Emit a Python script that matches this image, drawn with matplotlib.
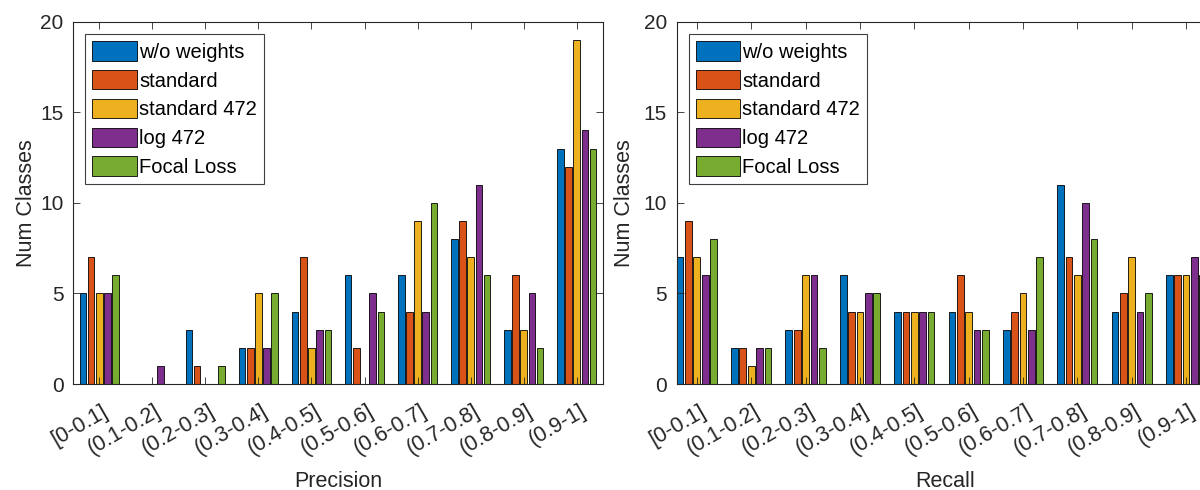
import numpy as np
import matplotlib
matplotlib.use("Agg")
import matplotlib.pyplot as plt
from matplotlib.transforms import ScaledTranslation

plt.rcParams['font.family'] = ['Liberation Sans', 'DejaVu Sans']

bins = ['[0-0.1]', '(0.1-0.2]', '(0.2-0.3]', '(0.3-0.4]', '(0.4-0.5]',
        '(0.5-0.6]', '(0.6-0.7]', '(0.7-0.8]', '(0.8-0.9]', '(0.9-1]']
series = ['w/o weights', 'standard', 'standard 472', 'log 472', 'Focal Loss']

# Number of classes per precision bin, one list per training variant
prec_wo = [5, 0, 3, 2, 4, 6, 6, 8, 3, 13]
prec_std = [7, 0, 1, 2, 7, 2, 4, 9, 6, 12]
prec_std472 = [5, 0, 0, 5, 2, 0, 9, 7, 3, 19]
prec_log472 = [5, 1, 0, 2, 3, 5, 4, 11, 5, 14]
prec_focal = [6, 0, 1, 5, 3, 4, 10, 6, 2, 13]

# Number of classes per recall bin
rec_wo = [7, 2, 3, 6, 4, 4, 3, 11, 4, 6]
rec_std = [9, 2, 3, 4, 4, 6, 4, 7, 5, 6]
rec_std472 = [7, 1, 6, 4, 4, 4, 5, 6, 7, 6]
rec_log472 = [6, 2, 6, 5, 4, 3, 3, 10, 4, 7]
rec_focal = [8, 2, 2, 5, 4, 3, 7, 8, 5, 6]

colors = ['#0072BD', '#D95319', '#EDB120', '#7E2F8E', '#77AC30']
axis_color = '#262626'

W, H = 1200, 490
fig = plt.figure(figsize=(W / 100, H / 100), dpi=100)
fig.patch.set_facecolor('white')

ax_top, ax_bot = 21.7, 384.0
ax_hpx = ax_bot - ax_top
ax_h = ax_hpx / H
ax_y = (H - ax_bot) / H

ax1 = fig.add_axes([73.3 / W, ax_y, 529.4 / W, ax_h])
ax2 = fig.add_axes([676.7 / W, ax_y, 536.0 / W, ax_h])


def draw(ax, data, xlabel, xlim, left_px, width_px, ylabel_px):
    x = np.arange(1, len(bins) + 1)
    n = len(data)
    group = min(0.8, n / (n + 1.5))
    pitch = group / n
    width = pitch * 0.8
    handles = []
    for i, (vals, c, name) in enumerate(zip(data, colors, series)):
        off = (i - (n - 1) / 2) * pitch
        h = ax.bar(x + off, vals, width=width, color=c, edgecolor='black',
                   linewidth=0.6, label=name)
        handles.append(h)
    ax.set_xlim(*xlim)
    ax.set_ylim(0, 20)
    ax.set_yticks([0, 5, 10, 15, 20])
    ax.set_xticks(x)
    ax.set_xticklabels(bins, rotation=30, ha='right', va='top',
                       rotation_mode='anchor', fontsize=15.5)
    ax.tick_params(axis='both', direction='in', length=5, width=0.6,
                   colors=axis_color, top=True, right=True)
    ax.tick_params(axis='y', labelsize=15, pad=7)
    ax.tick_params(axis='x', pad=12)
    shift = ScaledTranslation(2 / 100, 0, fig.dpi_scale_trans)
    for lab in ax.get_xticklabels():
        lab.set_transform(lab.get_transform() + shift)
    for sp in ax.spines.values():
        sp.set_color(axis_color)
        sp.set_linewidth(0.8)
    ax.set_xlabel(xlabel, fontsize=15.5, color=axis_color, va='baseline')
    ax.xaxis.set_label_coords(0.5, -(486.5 - ax_bot) / ax_hpx)
    ax.set_ylabel('Num Classes', fontsize=15.5, color=axis_color, va='center')
    ax.yaxis.set_label_coords((ylabel_px - left_px) / width_px, 0.5)
    leg = ax.legend(handles=handles, loc='upper left',
                    bbox_to_anchor=(12.0 / width_px, 1 - 12.5 / ax_hpx),
                    borderaxespad=0, fontsize=14.5, fancybox=False, framealpha=1,
                    edgecolor='#404040', handlelength=2.2, handleheight=1.1,
                    handletextpad=0.12, labelspacing=0.41, borderpad=0.35)
    leg.get_frame().set_linewidth(0.8)
    for t in leg.get_texts():
        t.set_color('black')


draw(ax1, [prec_wo, prec_std, prec_std472, prec_log472, prec_focal],
     'Precision', (0.51, 10.49), 73.3, 529.4, 27)
draw(ax2, [rec_wo, rec_std, rec_std472, rec_log472, rec_focal],
     'Recall', (0.63, 10.49), 676.7, 536.0, 624)

fig.savefig('out.png', dpi=100)
